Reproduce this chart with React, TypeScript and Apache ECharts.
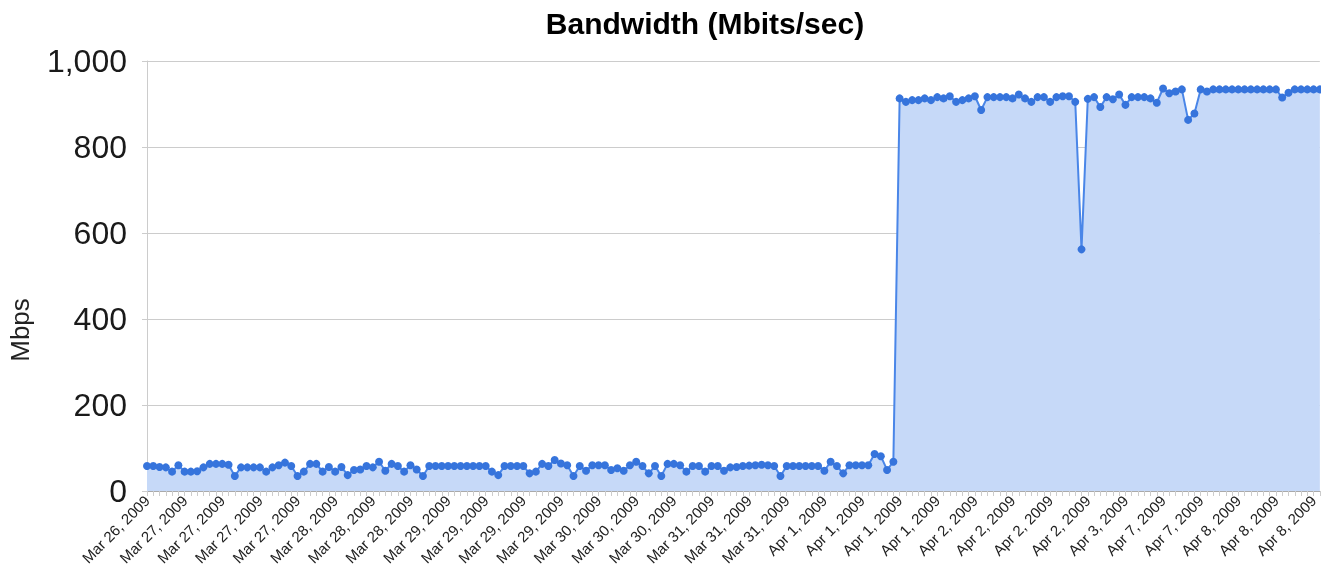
import React, { useEffect, useRef } from "react";
import * as echarts from "echarts";

const tickLabels: string[] = [
  "Mar 26, 2009", "Mar 27, 2009", "Mar 27, 2009", "Mar 27, 2009", "Mar 27, 2009",
  "Mar 28, 2009", "Mar 28, 2009", "Mar 28, 2009",
  "Mar 29, 2009", "Mar 29, 2009", "Mar 29, 2009", "Mar 29, 2009",
  "Mar 30, 2009", "Mar 30, 2009", "Mar 30, 2009",
  "Mar 31, 2009", "Mar 31, 2009", "Mar 31, 2009",
  "Apr 1, 2009", "Apr 1, 2009", "Apr 1, 2009", "Apr 1, 2009",
  "Apr 2, 2009", "Apr 2, 2009", "Apr 2, 2009", "Apr 2, 2009",
  "Apr 3, 2009", "Apr 7, 2009", "Apr 7, 2009",
  "Apr 8, 2009", "Apr 8, 2009", "Apr 8, 2009",
];

const pointsPerTick = 6;

// Mbps, before the upgrade (points 0..119)
const lowPhase: number[] = [
  58, 58, 56, 55, 45, 60, 45, 45, 46, 55,
  63, 63, 63, 61, 35, 55, 55, 55, 55, 45,
  55, 60, 66, 58, 35, 45, 63, 63, 45, 56,
  45, 56, 37, 49, 50, 58, 55, 68, 47, 63,
  58, 45, 60, 50, 35, 58, 58, 58, 58, 58,
  58, 58, 58, 58, 58, 45, 37, 58, 58, 58,
  58, 41, 45, 63, 58, 72, 64, 60, 35, 58,
  47, 60, 60, 60, 49, 53, 47, 60, 68, 58,
  41, 58, 35, 63, 63, 60, 45, 58, 58, 45,
  58, 58, 47, 55, 56, 58, 59, 60, 61, 60,
  58, 35, 58, 58, 58, 58, 58, 58, 47, 68,
  58, 41, 60, 60, 60, 60, 86, 81, 49, 68,
];

// Mbps, after the upgrade (points 120..187)
const highPhase: number[] = [
  913, 905, 909, 909, 913, 909, 916, 913, 918, 905,
  909, 913, 918, 886, 916, 916, 916, 916, 913, 922,
  913, 905, 916, 916, 905, 916, 918, 918, 905, 562,
  912, 916, 893, 916, 911, 922, 898, 916, 916, 916,
  913, 903, 936, 925, 929, 934, 863, 878, 934, 929,
  934, 934, 934, 934, 934, 934, 934, 934, 934, 934,
  934, 915, 926, 934, 934, 934, 934, 934,
];

const values: number[] = [...lowPhase, ...highPhase];
const categories: string[] = values.map(
  (_, i) => tickLabels[Math.min(tickLabels.length - 1, Math.floor(i / pointsPerTick))]
);

const FONT = "'Liberation Sans', Arial, sans-serif";

export default function App() {
  const ref = useRef<HTMLDivElement>(null);
  useEffect(() => {
    if (!ref.current) return;
    const chart = echarts.init(ref.current, undefined, { renderer: "svg" });
    chart.setOption({
      animation: false,
      textStyle: { fontFamily: FONT },
      grid: { left: 147, right: 0, top: 61, bottom: 84, containLabel: false },
      graphic: [
        {
          type: "text",
          x: 705,
          y: 23,
          style: {
            text: "Bandwidth (Mbits/sec)",
            textAlign: "center",
            textVerticalAlign: "middle",
            font: `bold 30px ${FONT}`,
            fill: "#000",
          },
        },
        {
          type: "text",
          x: 20,
          y: 330,
          rotation: Math.PI / 2,
          style: {
            text: "Mbps",
            textAlign: "center",
            textVerticalAlign: "middle",
            font: `26px ${FONT}`,
            fill: "#222",
          },
        },
      ],
      xAxis: {
        type: "category",
        data: categories,
        boundaryGap: false,
        axisLine: { show: true, lineStyle: { color: "#aaa", width: 1 } },
        axisTick: { show: true, interval: 0, length: 5, lineStyle: { color: "#ccc" } },
        axisLabel: {
          interval: pointsPerTick - 1,
          rotate: 45,
          fontSize: 15,
          color: "#222",
          margin: 7,
          fontFamily: FONT,
        },
        splitLine: { show: false },
      },
      yAxis: {
        type: "value",
        min: 0,
        max: 1000,
        interval: 200,
        axisLine: { show: true, lineStyle: { color: "#ccc" } },
        axisTick: { show: true, length: 5, lineStyle: { color: "#ccc" } },
        axisLabel: {
          fontSize: 32,
          color: "#1a1a1a",
          margin: 20,
          fontFamily: FONT,
          formatter: (v: number) => v.toLocaleString("en-US"),
        },
        splitLine: { show: true, lineStyle: { color: "#ccc", width: 1 } },
      },
      series: [
        {
          type: "line",
          data: values,
          symbol: "circle",
          symbolSize: 8,
          showAllSymbol: true,
          lineStyle: { color: "#4a86e8", width: 2 },
          itemStyle: { color: "#3674dc" },
          areaStyle: { color: "#c6d9f8", opacity: 1 },
          emphasis: { disabled: true },
        },
      ],
    });
    return () => chart.dispose();
  }, []);
  return (
    <div
      ref={ref}
      style={{ position: "fixed", left: 0, top: 0, width: 1321, height: 575 }}
    />
  );
}
